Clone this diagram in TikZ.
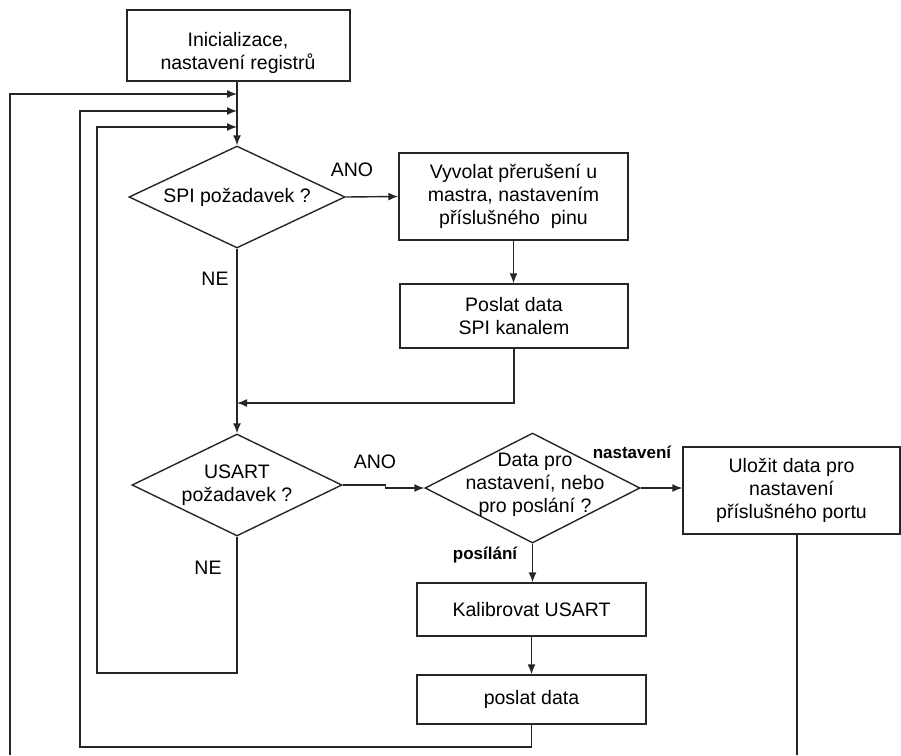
\documentclass[tikz,border=0pt]{standalone}
\usepackage{fontspec}
\setmainfont{Liberation Sans}
\usetikzlibrary{arrows.meta,shapes.geometric}
\begin{document}
\begin{tikzpicture}[x=1pt,y=-1pt,
  every node/.style={font=\fontsize{19.5}{23}\selectfont},
  flow/.style={line width=1.4pt,draw=black!85},
  arr/.style={flow,-{Latex[length=10pt,width=8pt]}},
  box/.style={draw=black!85,line width=1.4pt,rectangle,align=center,inner sep=0pt},
  dia/.style={draw=black!85,line width=1.4pt,diamond,align=center,inner sep=0pt},
  lab/.style={inner sep=0pt},
  blab/.style={inner sep=0pt,font=\fontsize{17}{20}\selectfont\bfseries}]
\useasboundingbox (0,0) rectangle (901,755);

% process boxes and decisions
\node[box,minimum width=223pt,minimum height=71pt] (init) at (238.5,45.5) {};
\node[align=center] (initt) at (238,53) {Inicializace,\\nastavení registrů};
\node[dia,aspect=2.12,minimum width=216pt,minimum height=102pt] (spi) at (237,197) {SPI požadavek ?};
\node[box,minimum width=229pt,minimum height=87pt] (irq) at (513.5,196.5)
  {Vyvolat přerušení u\\mastra, nastavením\\příslušného\ \ pinu};
\node[box,minimum width=228pt,minimum height=64pt] (spisend) at (514,316) {Poslat data\\SPI kanalem};
\node[dia,aspect=2.06,minimum width=210pt,minimum height=102pt] (usart) at (237,485) {USART\\požadavek ?};
\node[dia,aspect=1.95,minimum width=215pt,minimum height=110pt] (data) at (532.5,488) {};
\node[align=center] (datat) at (535,485) {Data pro\\nastavení, nebo\\pro poslání ?};
\node[box,minimum width=217pt,minimum height=87pt] (store) at (791.5,490.5)
  {Uložit data pro\\nastavení\\příslušného portu};
\node[box,minimum width=229pt,minimum height=53pt] (calib) at (531.5,609.5) {Kalibrovat USART};
\node[box,minimum width=229pt,minimum height=49pt] (send) at (531.5,699.5) {poslat data};

% branch labels
\node[lab] (ano1) at (352,170) {ANO};
\node[lab] (ne1) at (215,279) {NE};
\node[lab] (ano2) at (375,462) {ANO};
\node[lab] (ne2) at (208,568) {NE};
\node[blab] (lset) at (632,452) {nastavení};
\node[blab] (lsend) at (485,555) {posílání};

% junctions on the main line and loop corners
\coordinate (m1) at (237,94);
\coordinate (m2) at (237,111);
\coordinate (m3) at (237,127);
\coordinate (m4) at (237,403);
\coordinate (k2) at (80,747);
\coordinate (k3) at (97,673);
\coordinate (c1) at (10,755);
\coordinate (c2) at (797,755);

% connectors
\draw[arr] (init.south -| spi.north) -- (spi.north);
\draw[arr] (spi.east) -- (irq.west);
\draw[arr] (irq.south) -- (irq.south |- spisend.north);
\draw[arr] (spisend.south) |- (m4);
\draw[arr] (spi.south) -- (usart.north);
\draw[arr] (usart.east) -- ++(43,0) |- (data.west);
\draw[arr] (data.east) -- (data.east -| store.west);
\draw[arr] (data.south) -- (data.south |- calib.north);
\draw[arr] (calib.south) -- (send.north);
\draw[arr] (usart.south) |- (k3) |- (m3);
\draw[arr] (send.south) |- (k2) |- (m2);
\draw[arr] (c1) |- (m1);
\draw[flow] (c2 |- store.south) -- (c2);
\end{tikzpicture}
\end{document}
